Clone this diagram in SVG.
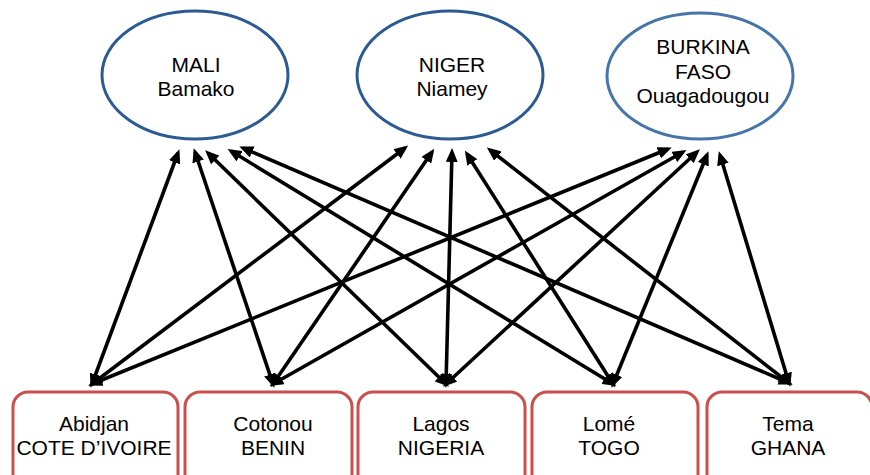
<svg xmlns="http://www.w3.org/2000/svg" width="870" height="475" viewBox="0 0 870 475">
<defs>
<marker id="ah" viewBox="0 0 14 12" refX="10" refY="6" markerWidth="14" markerHeight="12" markerUnits="userSpaceOnUse" orient="auto-start-reverse">
<path d="M0,0 L14,6 L0,12 z" fill="#000"/>
</marker>
<style>
.city{fill:#fff;stroke:#2c5a93;stroke-width:3}
.port{fill:#fff;stroke:#c9504d;stroke-width:3}
text{font-family:"Liberation Sans",Arial,sans-serif;font-size:21px;fill:#000;text-anchor:middle}
.c line{stroke:#000;stroke-width:3.6;marker-start:url(#ah);marker-end:url(#ah)}
</style>
</defs>
<rect width="870" height="475" fill="#fff"/>
<g id="mali"><ellipse class="city" cx="195" cy="75" rx="93" ry="64"/><text x="196" y="72">MALI</text><text x="196" y="96">Bamako</text></g>
<g id="niger"><ellipse class="city" cx="450" cy="75" rx="93" ry="64"/><text x="452" y="72">NIGER</text><text x="452" y="96">Niamey</text></g>
<g id="burkina"><ellipse class="city" cx="700" cy="76" rx="93" ry="63" style="stroke:#4675aa"/><text x="703" y="54">BURKINA</text><text x="703" y="79">FASO</text><text x="703" y="103">Ouagadougou</text></g>
<g id="abidjan"><rect class="port" x="13" y="392" width="165" height="100" rx="15"/><text x="94" y="431">Abidjan</text><text x="94" y="455">COTE D’IVOIRE</text></g>
<g id="cotonou"><rect class="port" x="185" y="392" width="167" height="100" rx="15"/><text x="273" y="431">Cotonou</text><text x="273" y="455">BENIN</text></g>
<g id="lagos"><rect class="port" x="358" y="392" width="167" height="100" rx="15"/><text x="441" y="431">Lagos</text><text x="441" y="455">NIGERIA</text></g>
<g id="lome"><rect class="port" x="532" y="392" width="166" height="100" rx="15"/><text x="609" y="431">Lomé</text><text x="609" y="455">TOGO</text></g>
<g id="tema"><rect class="port" x="707" y="392" width="165" height="100" rx="15"/><text x="788" y="431">Tema</text><text x="788" y="455">GHANA</text></g>
<g class="c" id="connectors">
<line x1="178" y1="153" x2="92" y2="384"/>
<line x1="195" y1="152" x2="273" y2="384"/>
<line x1="208" y1="153" x2="446" y2="384"/>
<line x1="231" y1="151" x2="613" y2="384"/>
<line x1="243" y1="148" x2="789" y2="383"/>
<line x1="405" y1="148" x2="92" y2="384"/>
<line x1="432" y1="152" x2="273" y2="384"/>
<line x1="452" y1="152" x2="446" y2="384"/>
<line x1="467" y1="154" x2="613" y2="384"/>
<line x1="490" y1="150" x2="789" y2="383"/>
<line x1="668" y1="149" x2="92" y2="384"/>
<line x1="683" y1="152" x2="273" y2="384"/>
<line x1="697" y1="152" x2="446" y2="384"/>
<line x1="707" y1="155" x2="613" y2="384"/>
<line x1="720" y1="155" x2="789" y2="383"/>
</g>
</svg>
